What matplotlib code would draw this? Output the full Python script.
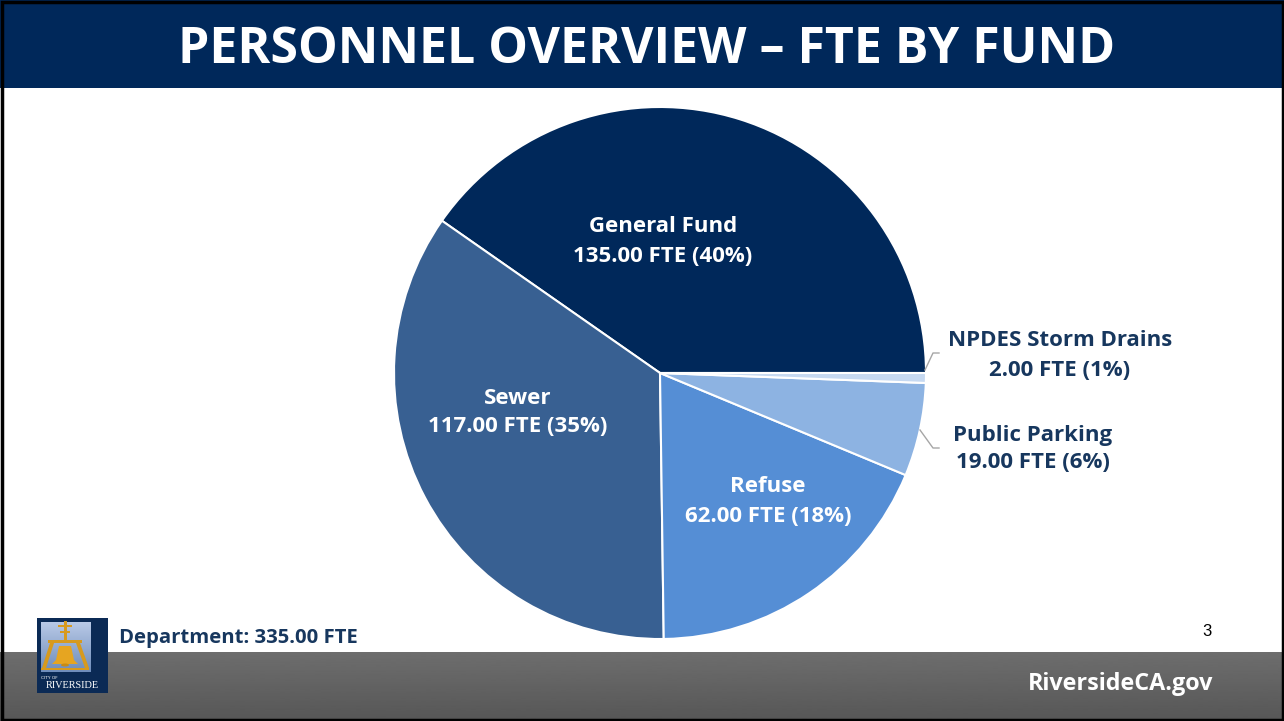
import matplotlib
matplotlib.use("Agg")
import matplotlib.pyplot as plt
import numpy as np
from matplotlib.patches import Rectangle, Polygon, Ellipse

# ---- data ----
funds = ["General Fund", "Sewer", "Refuse", "Public Parking", "NPDES Storm Drains"]
fte = [135.00, 117.00, 62.00, 19.00, 2.00]
pcts = [40, 35, 18, 6, 1]
colors = ["#00285A", "#386092", "#558ED5", "#8DB3E2", "#C6D9F1"]
title = "PERSONNEL OVERVIEW \u2013 FTE BY FUND"
dept_total = "Department: 335.00 FTE"
page_no = "3"
site = "RiversideCA.gov"

W, H = 1284, 721
FONT = "Open Sans"
NAVY = "#00285A"
LABEL_NAVY = "#17375E"

fig = plt.figure(figsize=(W / 100, H / 100), dpi=100)
ax = fig.add_axes([0, 0, 1, 1])


def Y(y):
    return H - y


# background white
ax.add_patch(Rectangle((0, 0), W, H, facecolor="white", edgecolor="none", zorder=0))

# title band
ax.add_patch(Rectangle((0, Y(88)), W, 88, facecolor=NAVY, edgecolor="none", zorder=1))
ax.text(647, Y(50), title, color="white", fontsize=36, fontweight="bold",
        family=FONT, ha="center", va="center", zorder=2)

# bottom gray gradient band
grad = np.linspace(0.43, 0.34, 100).reshape(-1, 1)
ax.imshow(grad, cmap="gray", vmin=0, vmax=1, aspect="auto",
          extent=(0, W, Y(H), Y(652)), zorder=1)
ax.text(1213, Y(684), site, color="white", fontsize=16.8, fontweight="bold",
        family=FONT, ha="right", va="center", zorder=2)

# pie
wedges, _ = ax.pie(fte, colors=colors, startangle=0, counterclock=True,
                   center=(660, Y(373)), radius=266,
                   wedgeprops=dict(edgecolor="white", linewidth=1.5))
for w in wedges:
    w.set_zorder(3)

LBL = 16

# inside labels
inside = [(0, 663, 227, 257), (1, 518, 398, 427), (2, 768, 487, 517)]
for i, x, y1, y2 in inside:
    ax.text(x, Y(y1), funds[i], color="white", fontsize=LBL, fontweight="bold",
            family=FONT, ha="center", va="center", zorder=4)
    ax.text(x, Y(y2), f"{fte[i]:.2f} FTE ({pcts[i]}%)", color="white", fontsize=LBL,
            fontweight="bold", family=FONT, ha="center", va="center", zorder=4)

# outside labels with leader lines
outside = [(4, 1060, 340, 370, [(925, 370), (933, 353), (939, 353)]),
           (3, 1033, 435, 463, [(920, 430), (933, 448), (939, 448)])]
for i, x, y1, y2, pts in outside:
    ax.text(x, Y(y1), funds[i], color=LABEL_NAVY, fontsize=LBL, fontweight="bold",
            family=FONT, ha="center", va="center", zorder=4)
    ax.text(x, Y(y2), f"{fte[i]:.2f} FTE ({pcts[i]}%)", color=LABEL_NAVY, fontsize=LBL,
            fontweight="bold", family=FONT, ha="center", va="center", zorder=4)
    xs = [p[0] for p in pts]
    ys = [Y(p[1]) for p in pts]
    ax.plot(xs, ys, color="#A6A6A6", lw=1, zorder=4)

# department total & page number
ax.text(119, Y(638), dept_total, color=LABEL_NAVY, fontsize=14.6, fontweight="bold",
        family=FONT, ha="left", va="center", zorder=4)
ax.text(1207, Y(632), page_no, color="black", fontsize=12,
        family="Liberation Sans", ha="center", va="center", zorder=4)

# logo (approximation)
ax.add_patch(Rectangle((37, Y(693)), 71, 75, facecolor="#0B2A55", edgecolor="none", zorder=5))
lg = np.linspace(0.0, 1.0, 50).reshape(-1, 1)
ax.imshow(lg, cmap=matplotlib.colors.LinearSegmentedColormap.from_list("lb", ["#B8C9E6", "#6F8DBB"]),
          aspect="auto", extent=(41, 91, Y(672), Y(622)), zorder=6)
gold = "#D79A1E"
ax.add_patch(Rectangle((63.5, Y(643)), 3, 22, facecolor=gold, zorder=7))
ax.add_patch(Rectangle((58, Y(627)), 14, 2.5, facecolor=gold, zorder=7))
ax.add_patch(Rectangle((60, Y(633)), 10, 2.5, facecolor=gold, zorder=7))
ax.add_patch(Rectangle((48, Y(643)), 34, 3, facecolor=gold, zorder=7))
ax.add_patch(Polygon([(50, Y(643)), (54, Y(643)), (46, Y(668)), (42, Y(668))], closed=True,
                     facecolor=gold, zorder=7))
ax.add_patch(Polygon([(76, Y(643)), (80, Y(643)), (89, Y(668)), (85, Y(668))], closed=True,
                     facecolor=gold, zorder=7))
ax.add_patch(Rectangle((41, Y(670)), 48, 2.5, facecolor=gold, zorder=7))
ax.add_patch(Polygon([(59, Y(646)), (71, Y(646)), (74, Y(660)), (78, Y(664)),
                      (52, Y(664)), (56, Y(660))], closed=True, facecolor="#E6A521", zorder=8))
ax.add_patch(Ellipse((65, Y(665)), 8, 3, facecolor="#C98B12", zorder=8))
ax.text(41, Y(678), "CITY OF", color="white", fontsize=3.2, family="DejaVu Sans",
        ha="left", va="center", zorder=8)
ax.text(72.5, Y(686), "RIVERSIDE", color="white", fontsize=7.4, family="Liberation Serif",
        ha="center", va="center", zorder=8)

# slide border
ax.add_patch(Rectangle((1.5, 1.5), W - 3, H - 3, facecolor="none", edgecolor="black",
                       linewidth=2.5, zorder=10))

ax.set_xlim(0, W)
ax.set_ylim(0, H)
ax.set_aspect("auto")
ax.axis("off")
fig.savefig("out.png", dpi=100)
